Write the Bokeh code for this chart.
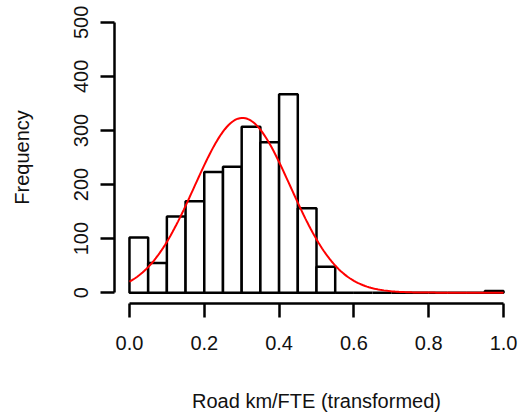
import numpy as np
from bokeh.plotting import figure
from bokeh.models import FixedTicker, NumeralTickFormatter, ColumnDataSource
from bokeh.embed import file_html
from bokeh.resources import INLINE

# Histogram data (bin edges step 0.05 from 0 to 1)
bin_left = [0.00, 0.05, 0.10, 0.15, 0.20, 0.25, 0.30, 0.35, 0.40, 0.45,
            0.50, 0.55, 0.60, 0.65, 0.70, 0.75, 0.80, 0.85, 0.90, 0.95]
bin_right = [0.05, 0.10, 0.15, 0.20, 0.25, 0.30, 0.35, 0.40, 0.45, 0.50,
             0.55, 0.60, 0.65, 0.70, 0.75, 0.80, 0.85, 0.90, 0.95, 1.00]
counts = [102, 55, 141, 169, 223, 233, 307, 278, 367, 156,
          48, 0, 0, 0, 0, 0, 0, 0, 0, 3]

# Fitted normal curve parameters
fit_mean = 0.302
fit_sd = 0.1285
bin_width = 0.05

x_ticks = [0.0, 0.2, 0.4, 0.6, 0.8, 1.0]
y_ticks = [0, 100, 200, 300, 400, 500]

n_total = sum(counts)
curve_x = np.linspace(0.0, 1.0, 201)
curve_y = n_total * bin_width * np.exp(-0.5 * ((curve_x - fit_mean) / fit_sd) ** 2) / (fit_sd * np.sqrt(2 * np.pi))

FONT = "Liberation Sans"

p = figure(frame_width=404, frame_height=292,
           x_range=(-0.04, 1.04), y_range=(-20, 520),
           min_border_left=114, min_border_top=11, min_border_right=0,
           min_border_bottom=5,
           output_backend="svg", toolbar_location=None)

src = ColumnDataSource(dict(left=bin_left, right=bin_right, top=counts,
                            bottom=[0] * len(counts)))
p.quad(left="left", right="right", top="top", bottom="bottom", source=src,
       fill_color="white", line_color="black", line_width=2.5)
p.line(curve_x, curve_y, line_color="#ff0000", line_width=2)

p.grid.visible = False
p.outline_line_color = None

for ax in (p.xaxis[0], p.yaxis[0]):
    ax.axis_line_width = 2.5
    ax.major_tick_line_width = 2.5
    ax.major_tick_out = 14
    ax.major_tick_in = 0
    ax.minor_tick_line_color = None
    ax.major_label_text_font = FONT
    ax.major_label_text_font_size = "20px"
    ax.major_label_text_color = "#111111"
    ax.axis_label_text_font = FONT
    ax.axis_label_text_font_size = "20px"
    ax.axis_label_text_font_style = "normal"
    ax.axis_label_text_color = "#111111"

p.xaxis[0].ticker = FixedTicker(ticks=x_ticks)
p.xaxis[0].formatter = NumeralTickFormatter(format="0.0")
p.xaxis[0].bounds = (0, 1)
p.xaxis[0].axis_label = "Road km/FTE (transformed)"
p.xaxis[0].major_label_standoff = 18
p.xaxis[0].axis_label_standoff = 37

p.yaxis[0].ticker = FixedTicker(ticks=y_ticks)
p.yaxis[0].bounds = (0, 500)
p.yaxis[0].axis_label = "Frequency"
p.yaxis[0].major_label_orientation = "vertical"
p.yaxis[0].major_label_standoff = 12
p.yaxis[0].axis_label_standoff = 39

open("out.html", "w").write(file_html(p, INLINE))
